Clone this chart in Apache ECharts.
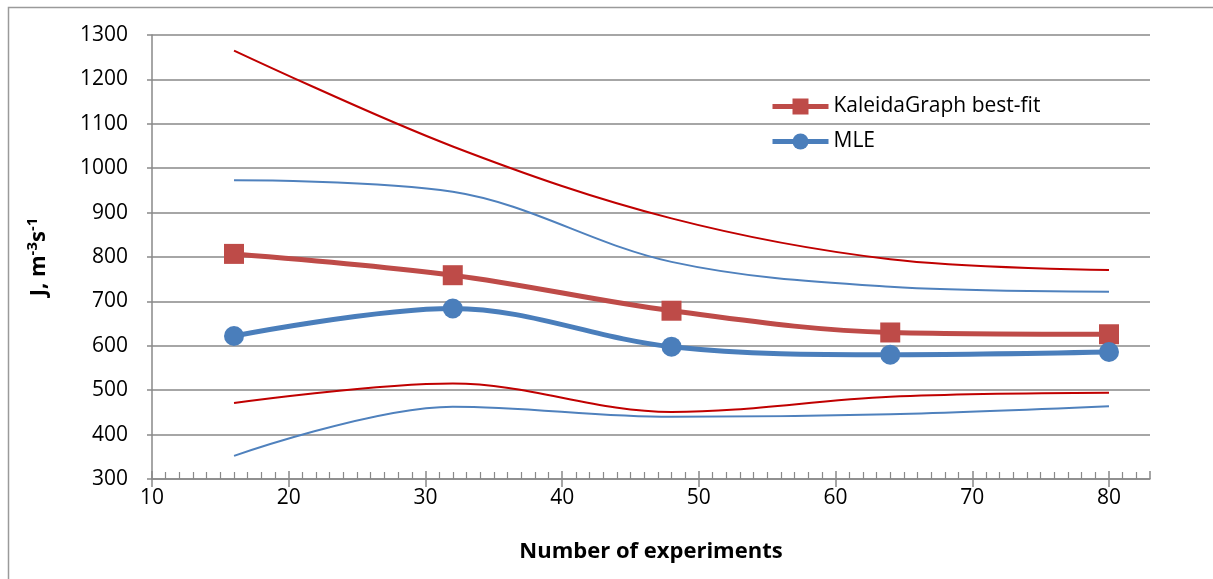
<!DOCTYPE html>
<html>
<head>
<meta charset="utf-8">
<script src="https://cdn.jsdelivr.net/npm/echarts@6/dist/echarts.min.js"></script>
<style>
  html, body { margin: 0; padding: 0; background: #ffffff; }
  #chart { width: 1213px; height: 579px; }
</style>
</head>
<body>
<div id="chart"></div>
<script>
// ---- data ----
const experiments = [16, 32, 48, 64, 80];
const kaleidaBestFit = [807, 759, 679, 630, 626];
const mle = [622, 684, 598, 580, 586];
const kaleidaUpper = [1265, 1049, 887, 795, 771];
const kaleidaLower = [471, 515, 451, 485, 494];
const mleUpper = [973, 947, 789, 733, 722];
const mleLower = [352, 463, 440, 446, 464];
const legendNames = ['KaleidaGraph best-fit', 'MLE'];
const xAxisTitle = 'Number of experiments';

const pairs = (xs, ys) => xs.map((x, i) => [x, ys[i]]);

const FONT = 'Open Sans';
const GRAY = '#898989';

const thin = (name, ys, color) => ({
  name: name, type: 'line', xAxisIndex: 0, data: pairs(experiments, ys),
  smooth: 0.35, showSymbol: false, symbol: 'none',
  lineStyle: { color: color, width: 2 }, silent: true, z: 2
});

const option = {
  animation: false,
  backgroundColor: '#ffffff',
  graphic: [{
    type: 'rect', left: 6, top: 5, shape: { width: 1220, height: 590 },
    style: { fill: 'none', stroke: '#9a9a9a', lineWidth: 1.5 }, silent: true
  }],
  grid: { left: 152, right: 63, top: 35, bottom: 100 },
  legend: {
    data: legendNames, orient: 'vertical', left: 765, top: 91,
    itemWidth: 56, itemHeight: 20, itemGap: 14,
    lineStyle: { width: 5 },
    textStyle: { fontFamily: FONT, fontSize: 21, color: '#000' }
  },
  xAxis: [{
    type: 'value', min: 10, max: 83, interval: 10,
    axisLine: { lineStyle: { color: GRAY, width: 1.5 } },
    axisTick: { inside: true, length: 8, lineStyle: { color: GRAY, width: 1.5 } },
    minorTick: { show: true, splitNumber: 10, length: 7, lineStyle: { color: GRAY, width: 1.2 } },
    axisLabel: { show: false },
    splitLine: { show: false }
  }, {
    type: 'value', min: 10, max: 83, interval: 10, position: 'bottom',
    axisLine: { show: false },
    axisTick: { inside: false, length: 8, lineStyle: { color: GRAY, width: 1.5 } },
    axisLabel: { margin: 9, showMaxLabel: false, fontFamily: FONT, fontSize: 21, color: '#000',
                 formatter: v => String(v) },
    splitLine: { show: false },
    name: xAxisTitle, nameLocation: 'middle', nameGap: 62,
    nameTextStyle: { fontFamily: FONT, fontSize: 22, fontWeight: 'bold', color: '#000' }
  }],
  yAxis: {
    type: 'value', min: 300, max: 1300, interval: 100,
    axisLine: { show: true, lineStyle: { color: GRAY, width: 1.5 } },
    axisTick: { show: true, inside: false, length: 5, lineStyle: { color: GRAY, width: 1.5 } },
    axisLabel: { margin: 24, fontFamily: FONT, fontSize: 21, color: '#000',
                 formatter: v => String(v) },
    splitLine: { show: true, lineStyle: { color: GRAY, width: 1.5 } },
    name: '{b|J, m}{s|-3}{b|s}{s|-1}', nameLocation: 'middle', nameGap: 100, nameRotate: 90,
    nameTextStyle: {
      fontFamily: FONT, fontSize: 22, fontWeight: 'bold', color: '#000',
      rich: {
        b: { fontFamily: FONT, fontSize: 22, fontWeight: 'bold', color: '#000' },
        s: { fontFamily: FONT, fontSize: 15, fontWeight: 'bold', color: '#000', padding: [0, 0, 12, 0] }
      }
    }
  },
  series: [
    thin('KaleidaGraph upper', kaleidaUpper, '#C00000'),
    thin('MLE upper', mleUpper, '#4F81BD'),
    thin('KaleidaGraph lower', kaleidaLower, '#C00000'),
    thin('MLE lower', mleLower, '#4F81BD'),
    {
      name: legendNames[0], type: 'line', xAxisIndex: 0, data: pairs(experiments, kaleidaBestFit),
      smooth: 0.35, symbol: 'rect', symbolSize: 20,
      itemStyle: { color: '#BE4B48' }, lineStyle: { color: '#BE4B48', width: 5 }, z: 4
    },
    {
      name: legendNames[1], type: 'line', xAxisIndex: 0, data: pairs(experiments, mle),
      smooth: 0.35, symbol: 'circle', symbolSize: 20,
      itemStyle: { color: '#4A7EBB' }, lineStyle: { color: '#4A7EBB', width: 5 }, z: 4
    }
  ]
};

const chart = echarts.init(document.getElementById('chart'), null, { renderer: 'canvas' });
chart.setOption(option);
</script>
</body>
</html>
